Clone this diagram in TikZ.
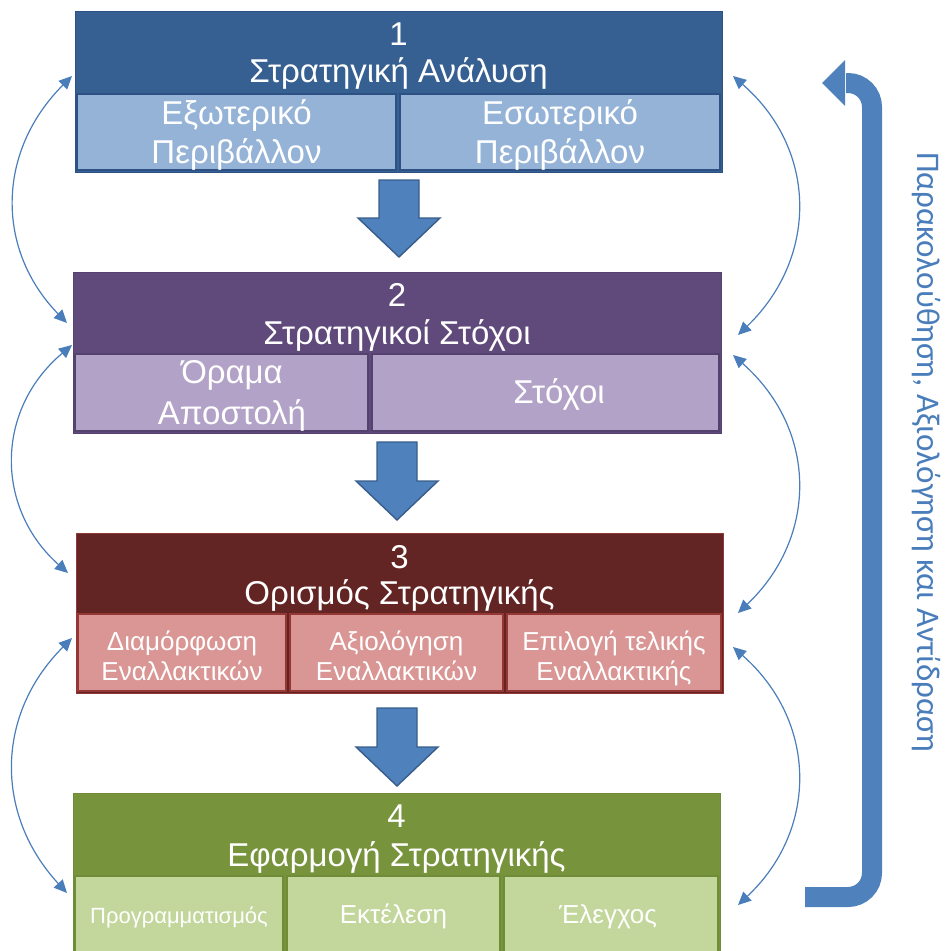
\documentclass[tikz,border=0pt]{standalone}
\usepackage{fontspec}
\setmainfont{Liberation Sans}
\newfontfamily\sidefont{Carlito}
\usetikzlibrary{arrows.meta}

% block palette
\definecolor{headA}{HTML}{366092}\definecolor{cellA}{HTML}{95B3D7}\definecolor{frameA}{HTML}{2D5182}
\definecolor{headB}{HTML}{604A7B}\definecolor{cellB}{HTML}{B2A2C7}\definecolor{frameB}{HTML}{55416E}
\definecolor{headC}{HTML}{632523}\definecolor{cellC}{HTML}{D99694}\definecolor{frameC}{HTML}{953735}
\definecolor{headD}{HTML}{77933C}\definecolor{cellD}{HTML}{C3D69B}\definecolor{frameD}{HTML}{718C38}
% arrows
\definecolor{arrowfill}{HTML}{4F81BD}\definecolor{arrowedge}{HTML}{385D8A}
\definecolor{linkblue}{HTML}{4A7EBB}

\begin{document}
\begin{tikzpicture}[x=1pt,y=-1pt,
  blockframe/.style={inner sep=0pt, outer sep=0pt, anchor=north west, line width=1pt},
  cellbox/.style={inner sep=0pt, outer sep=0pt, anchor=north west, line width=1.6pt},
  headtxt/.style={anchor=base, inner sep=0pt, text=white, font=\fontsize{33}{35}\selectfont},
  celltxt/.style={anchor=base, inner sep=0pt, text=white, font=\fontsize{33}{35}\selectfont},
  smalltxt/.style={anchor=base, inner sep=0pt, text=white, font=\fontsize{26}{28}\selectfont},
  tinytxt/.style={anchor=base, inner sep=0pt, text=white, font=\fontsize{22}{24}\selectfont},
  downarrow/.style={fill=arrowfill, draw=arrowedge, line width=1.4pt, line join=miter},
  link/.style={draw=linkblue, line width=1.2pt,
    {Triangle[length=13pt,width=12pt]}-{Triangle[length=13pt,width=12pt]}},
  feedback/.style={draw=arrowfill, line width=20pt, rounded corners=24pt},
]
\useasboundingbox (0,0) rectangle (951,951);

% ---------- 1: strategic analysis ----------
\node[blockframe, fill=headA, draw=frameA, minimum width=647, minimum height=161] (blk1) at (75,11) {};
\node[cellbox, fill=cellA, draw=frameA, minimum width=319, minimum height=76] (c11) at (77,94) {};
\node[cellbox, fill=cellA, draw=frameA, minimum width=320, minimum height=76] (c12) at (400,94) {};
\node[headtxt] (n1) at (398.5,45) {1};
\node[headtxt] (h1) at (398.5,82) {Στρατηγική Ανάλυση};
\node[celltxt] at (236.5,124) {Εξωτερικό};
\node[celltxt] at (236.5,163) {Περιβάλλον};
\node[celltxt] at (560,124) {Εσωτερικό};
\node[celltxt] at (560,163) {Περιβάλλον};

% ---------- 2: strategic goals ----------
\node[blockframe, fill=headB, draw=frameB, minimum width=648, minimum height=161] (blk2) at (73,272) {};
\node[cellbox, fill=cellB, draw=frameB, minimum width=293, minimum height=77] (c21) at (75,354) {};
\node[cellbox, fill=cellB, draw=frameB, minimum width=347, minimum height=77] (c22) at (372,354) {};
\node[headtxt] (n2) at (397,306) {2};
\node[headtxt] (h2) at (397,344) {Στρατηγικοί Στόχοι};
\node[celltxt] at (232,383) {Όραμα};
\node[celltxt] at (232,424) {Αποστολή};
\node[celltxt] at (559,403) {Στόχοι};

% ---------- 3: strategy formulation ----------
\node[blockframe, fill=headC, draw=frameC, minimum width=647, minimum height=160] (blk3) at (76,533) {};
\node[cellbox, fill=cellC, draw=frameC, minimum width=208, minimum height=77] (c31) at (78,614) {};
\node[cellbox, fill=cellC, draw=frameC, minimum width=213, minimum height=77] (c32) at (290,614) {};
\node[cellbox, fill=cellC, draw=frameC, minimum width=214, minimum height=77] (c33) at (507,614) {};
\node[headtxt] (n3) at (399.5,568) {3};
\node[headtxt] (h3) at (399.5,604) {Ορισμός Στρατηγικής};
\node[smalltxt] at (182,650) {Διαμόρφωση};
\node[smalltxt] at (182,680) {Εναλλακτικών};
\node[smalltxt] at (396.5,650) {Αξιολόγηση};
\node[smalltxt] at (396.5,680) {Εναλλακτικών};
\node[smalltxt] at (614,650) {Επιλογή τελικής};
\node[smalltxt] at (614,680) {Εναλλακτικής};

% ---------- 4: strategy implementation ----------
\node[blockframe, fill=headD, draw=frameD, minimum width=647, minimum height=170] (blk4) at (73,793) {};
\node[cellbox, fill=cellD, draw=frameD, minimum width=208, minimum height=85] (c41) at (75,876) {};
\node[cellbox, fill=cellD, draw=frameD, minimum width=213, minimum height=85] (c42) at (287,876) {};
\node[cellbox, fill=cellD, draw=frameD, minimum width=214, minimum height=85] (c43) at (504,876) {};
\node[headtxt] (n4) at (396.5,827) {4};
\node[headtxt] (h4) at (396.5,866) {Εφαρμογή Στρατηγικής};
\node[tinytxt] at (179,923) {Προγραμματισμός};
\node[smalltxt] at (393.5,923) {Εκτέλεση};
\node[smalltxt] at (608,923) {Έλεγχος};

% ---------- block arrows between stages ----------
\foreach \cx/\ya/\yb/\yc in {399/180/218/257, 397/442/481/520, 397/708/747/786}{
  \draw[downarrow] (\cx-20,\ya) -- (\cx+20,\ya) -- (\cx+20,\yb) -- (\cx+41,\yb)
    -- (\cx,\yc) -- (\cx-41,\yb) -- (\cx-20,\yb) -- cycle;
}

% ---------- two-way links, left side ----------
\coordinate (la1) at (72,76);   \coordinate (la2) at (67,323);
\coordinate (lb1) at (72,345);  \coordinate (lb2) at (68,573);
\coordinate (lc1) at (72,638);  \coordinate (lc2) at (67,893);
\draw[link] (la1) .. controls (-4,152) and (-4,250) .. (la2);
\draw[link] (lb1) .. controls (-5,410) and (-5,508) .. (lb2);
\draw[link] (lc1) .. controls (-5,715) and (-5,815) .. (lc2);

% ---------- two-way links, right side ----------
\coordinate (ra1) at (733,76);  \coordinate (ra2) at (738,335);
\coordinate (rb1) at (733,355); \coordinate (rb2) at (738,613);
\coordinate (rc1) at (733,647); \coordinate (rc2) at (738,905);
\draw[link] (ra1) .. controls (818,150) and (818,258) .. (ra2);
\draw[link] (rb1) .. controls (818,430) and (818,537) .. (rb2);
\draw[link] (rc1) .. controls (818,722) and (818,830) .. (rc2);

% ---------- feedback loop ----------
\coordinate (fbStart) at (805,897);
\coordinate (fbCorner) at (872,897);
\coordinate (fbTop) at (872,83);
\coordinate (fbEnd) at (846,83);
\draw[feedback] (fbStart) -- (fbCorner) -- (fbTop) -- (fbEnd);
\fill[arrowfill] (822,83) -- (845,60) -- (845,106) -- cycle;
\node[rotate=-90, inner sep=0pt, text=linkblue, font=\sidefont\fontsize{33}{35}\selectfont] (side) at (926,452)
  {Παρακολούθηση, Αξιολόγηση και Αντίδραση};
\end{tikzpicture}
\end{document}
